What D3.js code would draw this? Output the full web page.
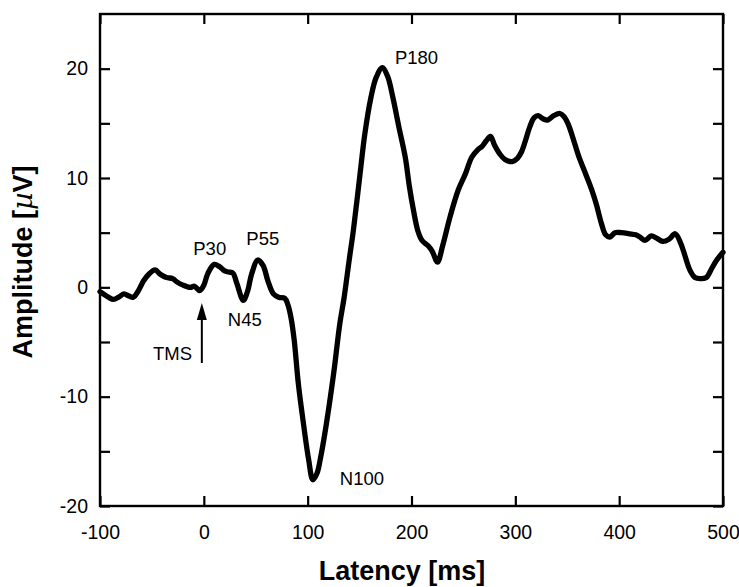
<!DOCTYPE html>
<html>
<head>
<meta charset="utf-8">
<script src="https://cdn.jsdelivr.net/npm/d3@7"></script>
<style>
  html, body { margin: 0; padding: 0; background: #fff; }
  svg { display: block; }
  text { font-family: "Liberation Sans", Arial, Helvetica, sans-serif; fill: #000; }
</style>
</head>
<body>
<svg id="chart" width="739" height="587"></svg>
<script>
// ---- data ----
const latency = [-100,-92,-87,-82,-77,-72,-68,-63,-58,-53,-47,-42,-36,-30,-26,-20,-13,-9,-4,0,4,10,15,20,24,28,32,38,42,46,52,57,62,67,72,78,81,84,87,91,96,101,105,109,112,118,125,131,135,140,144,150,155,161,166,172,177,182,188,194,198,202,206,210,216,220,225,230,237,245,252,258,264,268,272,276,280,285,290,297,302,306,310,314,318,322,327,331,337,343,347,351,356,361,368,374,378,383,387,391,396,402,410,416,420,425,431,436,442,448,454,459,462,468,473,478,484,489,494,500];
const amplitude = [-0.4,-0.9,-1.1,-0.9,-0.6,-0.8,-0.9,-0.3,0.6,1.2,1.6,1.2,0.9,0.8,0.5,0.2,0.0,0.1,-0.3,0.2,1.3,2.1,1.9,1.5,1.4,1.3,0.3,-1.2,-0.4,1.2,2.5,2.0,0.5,-0.6,-0.9,-1.0,-1.6,-2.8,-4.8,-8.8,-12.5,-15.8,-17.6,-17.0,-15.8,-12.5,-7.9,-3.3,-1.0,2.5,5.2,10.0,14.0,17.4,19.2,20.1,19.3,17.4,14.6,11.9,9.2,7.0,5.2,4.3,3.8,3.3,2.3,3.8,6.4,8.9,10.4,11.9,12.6,12.9,13.4,13.8,13.0,12.2,11.7,11.5,11.8,12.4,13.5,14.7,15.5,15.7,15.4,15.3,15.7,15.9,15.6,14.9,13.5,12.0,10.3,8.8,7.6,5.8,4.8,4.6,5.0,5.0,4.9,4.8,4.6,4.3,4.7,4.5,4.2,4.4,4.9,4.1,3.3,1.6,0.9,0.8,0.9,1.7,2.5,3.2];
const xTicks = [-100,0,100,200,300,400,500];
const yTicks = [-20,-10,0,10,20];
const yMinorTicks = [-15,-5,5,15];
const peakLabels = ["P30","N45","P55","N100","P180"];
const peakLatency = [10,38,52,105,172];
const peakAmplitude = [2.1,-1.2,2.5,-17.6,20.1];

// ---- layout ----
const svg = d3.select("#chart");
const mLeft = 100, mRight = 723, mTop = 14, mBottom = 506;
const x = d3.scaleLinear().domain([-100,500]).range([mLeft,mRight]);
const y = d3.scaleLinear().domain([-20,25]).range([mBottom,mTop]);
const tickLen = 10;

// axes (inward ticks)
const fmt = d => String(d);
svg.append("g").attr("transform",`translate(0,${mBottom})`)
  .call(d3.axisBottom(x).tickValues(xTicks).tickSize(-tickLen).tickPadding(19).tickFormat(fmt));
svg.append("g").attr("transform",`translate(0,${mTop})`)
  .call(d3.axisTop(x).tickValues(xTicks).tickSize(-tickLen).tickFormat(""));
svg.append("g").attr("transform",`translate(${mLeft},0)`)
  .call(d3.axisLeft(y).tickValues(yTicks.concat(yMinorTicks)).tickSize(-tickLen).tickPadding(12)
    .tickFormat(d => yTicks.includes(d) ? fmt(d) : ""));
svg.append("g").attr("transform",`translate(${mRight},0)`)
  .call(d3.axisRight(y).tickValues(yTicks.concat(yMinorTicks)).tickSize(-tickLen).tickFormat(""));

svg.selectAll(".domain").remove();
svg.selectAll(".tick line").attr("stroke","#000").attr("stroke-width",2.2);
svg.selectAll(".tick text").attr("font-size",19.5).attr("font-family","'Liberation Sans', Arial, sans-serif").attr("fill","#000");

// frame
svg.append("rect").attr("x",mLeft).attr("y",mTop).attr("width",mRight-mLeft).attr("height",mBottom-mTop)
  .attr("fill","none").attr("stroke","#000").attr("stroke-width",2.4);

// curve
const data = latency.map((t,i)=>[t,amplitude[i]]);
svg.append("path").datum(data)
  .attr("fill","none").attr("stroke","#000").attr("stroke-width",5.3)
  .attr("stroke-linejoin","round").attr("stroke-linecap","round")
  .attr("d", d3.line().x(d=>x(d[0])).y(d=>y(d[1])).curve(d3.curveCatmullRom.alpha(0.5)));

// peak labels
const offsets = {P30:[-4.5,-9,"middle"],N45:[1.5,26,"middle"],P55:[5,-15,"middle"],N100:[27,5,"start"],P180:[12.5,-3.3,"start"]};
peakLabels.forEach((lab,i)=>{
  const o = offsets[lab];
  svg.append("text").attr("x",x(peakLatency[i])+o[0]).attr("y",y(peakAmplitude[i])+o[1])
    .attr("text-anchor",o[2]).attr("font-size",18.5).text(lab);
});

// TMS arrow
const ax = x(0)-2;
svg.append("line").attr("x1",ax).attr("x2",ax).attr("y1",363).attr("y2",312)
  .attr("stroke","#000").attr("stroke-width",2);
svg.append("path").attr("d",`M${ax},303 L${ax-5},320 L${ax+5},320 Z`).attr("fill","#000");
svg.append("text").attr("x",192).attr("y",360).attr("text-anchor","end").attr("font-size",18.5).text("TMS");

// axis titles
svg.append("text").attr("x",402).attr("y",580).attr("text-anchor","middle")
  .attr("font-size",27).attr("font-weight","bold").text("Latency [ms]");
const yl = svg.append("text").attr("transform",`translate(31.5,262) rotate(-90)`).attr("text-anchor","middle")
  .attr("font-size",27).attr("font-weight","bold");
yl.append("tspan").text("Amplitude [");
yl.append("tspan").attr("font-weight","normal").attr("font-family","'DejaVu Serif', serif").attr("font-style","italic").text("µ");
yl.append("tspan").text("V]");
</script>
</body>
</html>
